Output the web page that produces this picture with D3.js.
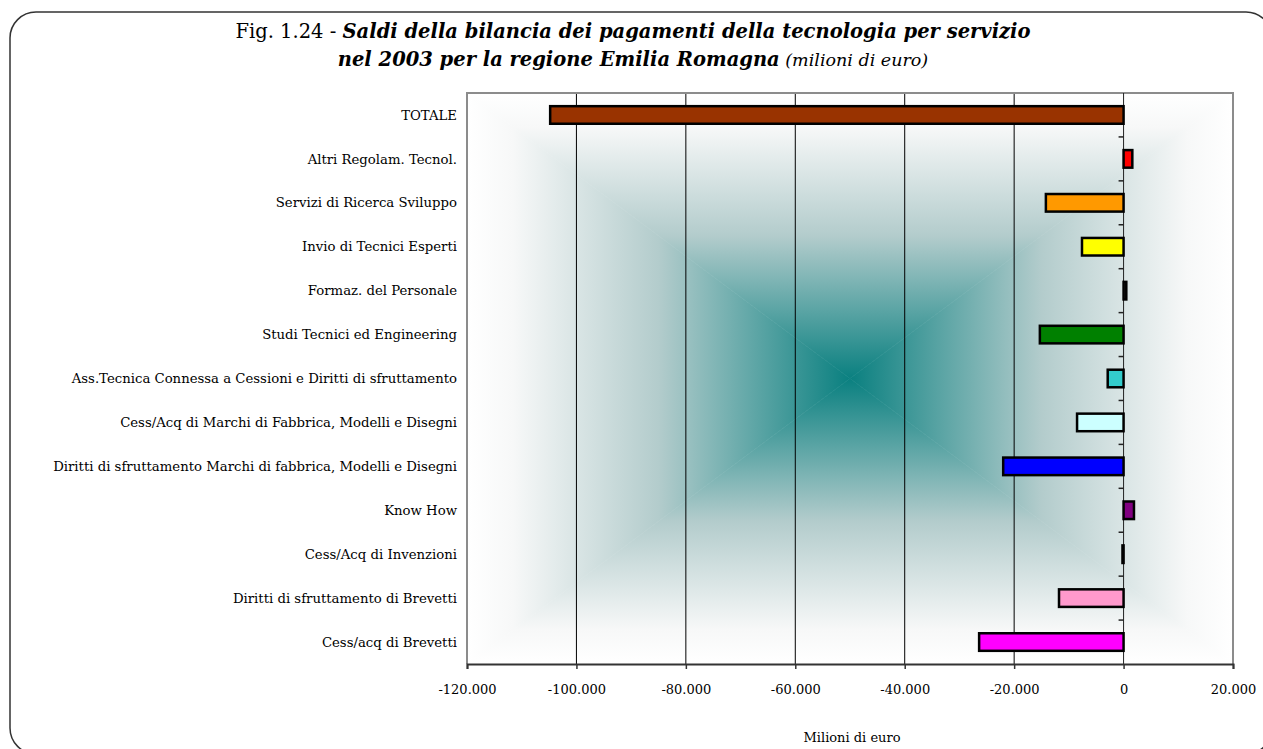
<!DOCTYPE html>
<html>
<head>
<meta charset="utf-8">
<script src="https://cdn.jsdelivr.net/npm/d3@7"></script>
<style>
  body { margin: 0; background: #fff; }
  svg { display: block; font-family: "DejaVu Serif", "Liberation Serif", serif; }
</style>
</head>
<body>
<div class="chart"></div>
<script>
const categories = [
  "TOTALE",
  "Altri Regolam. Tecnol.",
  "Servizi di Ricerca Sviluppo",
  "Invio di Tecnici Esperti",
  "Formaz. del Personale",
  "Studi Tecnici ed Engineering",
  "Ass.Tecnica Connessa a Cessioni e Diritti di sfruttamento",
  "Cess/Acq di Marchi di Fabbrica, Modelli e Disegni",
  "Diritti di sfruttamento Marchi di fabbrica, Modelli e Disegni",
  "Know How",
  "Cess/Acq di Invenzioni",
  "Diritti di sfruttamento di Brevetti",
  "Cess/acq di Brevetti"
];
const values = [-104800, 1600, -14200, -7600, 500, -15300, -2900, -8500, -22000, 1900, -200, -11800, -26400];
const barColors = [
  "#993300", "#ff0000", "#ff9900", "#ffff00", "#333333", "#008000", "#33cccc",
  "#ccffff", "#0000ff", "#800080", "#000080", "#ff99cc", "#ff00ff"
];
const xTicks = [-120000, -100000, -80000, -60000, -40000, -20000, 0, 20000];

const width = 1263;
const height = 749;
const plot = { left: 467, right: 1233, top: 93, bottom: 664 };

const svg = d3
  .select(".chart")
  .append("svg")
  .attr("width", width)
  .attr("height", height);

// outer frame with rounded corners
svg
  .append("rect")
  .attr("x", 10)
  .attr("y", 12)
  .attr("width", 1262)
  .attr("height", 742)
  .attr("rx", 26)
  .attr("fill", "none")
  .attr("stroke", "#333")
  .attr("stroke-width", 1.5);

// title
const title = svg.append("text").attr("text-anchor", "middle").style("font-size", "19.5px");
title
  .append("tspan")
  .attr("x", 633)
  .attr("y", 38)
  .text("Fig. 1.24 - ");
title
  .append("tspan")
  .style("font-weight", "bold")
  .style("font-style", "italic")
  .text("Saldi della bilancia dei pagamenti della tecnologia per servizio");
const title2 = svg.append("text").attr("text-anchor", "middle").style("font-size", "19.5px");
title2
  .append("tspan")
  .attr("x", 633)
  .attr("y", 66)
  .style("font-weight", "bold")
  .style("font-style", "italic")
  .text("nel 2003 per la regione Emilia Romagna");
title2
  .append("tspan")
  .style("font-style", "italic")
  .style("font-size", "17.5px")
  .text("  (milioni di euro)");

const x = d3
  .scaleLinear()
  .domain([-120000, 20000])
  .range([plot.left, plot.right]);

const y = d3
  .scaleBand()
  .domain(categories)
  .range([plot.top, plot.bottom])
  .paddingInner(0.6)
  .paddingOuter(0.3);

const yBound = d3
  .scaleBand()
  .domain(categories)
  .range([plot.top, plot.bottom]);

// background: rectangular gradient from the centre
const defs = svg.append("defs");
const cx = (plot.left + plot.right) / 2;
const cy = (plot.top + plot.bottom) / 2;
const sides = [
  { id: "gTop", x1: cx, y1: plot.top, x2: cx, y2: cy, pts: [[plot.left, plot.top], [plot.right, plot.top], [cx, cy]] },
  { id: "gBottom", x1: cx, y1: plot.bottom, x2: cx, y2: cy, pts: [[plot.left, plot.bottom], [plot.right, plot.bottom], [cx, cy]] },
  { id: "gLeft", x1: plot.left, y1: cy, x2: cx, y2: cy, pts: [[plot.left, plot.top], [plot.left, plot.bottom], [cx, cy]] },
  { id: "gRight", x1: plot.right, y1: cy, x2: cx, y2: cy, pts: [[plot.right, plot.top], [plot.right, plot.bottom], [cx, cy]] }
];
sides.forEach(s => {
  const g = defs
    .append("linearGradient")
    .attr("id", s.id)
    .attr("gradientUnits", "userSpaceOnUse")
    .attr("x1", s.x1)
    .attr("y1", s.y1)
    .attr("x2", s.x2)
    .attr("y2", s.y2);
  g.append("stop").attr("offset", "0").attr("stop-color", "#ffffff");
  g.append("stop").attr("offset", "0.12").attr("stop-color", "#f7f8f8");
  g.append("stop").attr("offset", "0.5").attr("stop-color", "#b3cccc");
  g.append("stop").attr("offset", "1").attr("stop-color", "#0a8080");
});
svg
  .append("g")
  .selectAll("polygon")
  .data(sides)
  .enter()
  .append("polygon")
  .attr("points", d => d.pts.map(p => p.join(",")).join(" "))
  .attr("fill", d => `url(#${d.id})`)
  .attr("stroke", d => `url(#${d.id})`)
  .attr("stroke-width", 0.6);

// vertical gridlines
svg
  .append("g")
  .selectAll("line")
  .data(xTicks.filter(t => t > -120000 && t < 0))
  .enter()
  .append("line")
  .attr("x1", d => x(d))
  .attr("x2", d => x(d))
  .attr("y1", plot.top)
  .attr("y2", plot.bottom)
  .attr("stroke", "#000")
  .attr("stroke-width", 1);

// plot border
svg
  .append("path")
  .attr("d", `M${plot.left},${plot.bottom} V${plot.top} H${plot.right} V${plot.bottom}`)
  .attr("fill", "none")
  .attr("stroke", "#8c8c8c")
  .attr("stroke-width", 2);

// category axis at zero
const yAxisG = svg.append("g");
yAxisG
  .append("line")
  .attr("x1", x(0))
  .attr("x2", x(0))
  .attr("y1", plot.top)
  .attr("y2", plot.bottom)
  .attr("stroke", "#222")
  .attr("stroke-width", 1);
yAxisG
  .selectAll(".ytick")
  .data(categories.slice(1))
  .enter()
  .append("line")
  .attr("class", "ytick")
  .attr("x1", x(0) - 5)
  .attr("x2", x(0))
  .attr("y1", d => yBound(d))
  .attr("y2", d => yBound(d))
  .attr("stroke", "#222")
  .attr("stroke-width", 1.5);

// bars
svg
  .append("g")
  .selectAll("rect")
  .data(values)
  .enter()
  .append("rect")
  .attr("x", d => x(Math.min(0, d)))
  .attr("y", (d, i) => y(categories[i]))
  .attr("width", d => Math.abs(x(d) - x(0)))
  .attr("height", y.bandwidth())
  .attr("fill", (d, i) => barColors[i])
  .attr("stroke", "#000")
  .attr("stroke-width", 2.5);

// category labels
svg
  .append("g")
  .selectAll("text")
  .data(categories)
  .enter()
  .append("text")
  .attr("x", plot.left - 10)
  .attr("y", d => yBound(d) + yBound.bandwidth() / 2)
  .attr("dy", "0.35em")
  .attr("text-anchor", "end")
  .style("font-size", "13.25px")
  .attr("fill", "#000")
  .text(d => d);

// value axis
const fmt = d3.formatLocale({ decimal: ",", thousands: ".", grouping: [3], currency: ["", "€"], minus: "-" }).format(",.0f");
const xAxis = d3.axisBottom(x).tickValues(xTicks).tickSize(5).tickPadding(16).tickFormat(fmt);
const xAxisG = svg
  .append("g")
  .attr("transform", `translate(0,${plot.bottom})`)
  .call(xAxis);
xAxisG.select(".domain").attr("stroke", "#333").attr("stroke-width", 2);
xAxisG.selectAll(".tick line").attr("stroke", "#333").attr("stroke-width", 1.5);
xAxisG
  .selectAll(".tick text")
  .style("font-family", "'DejaVu Serif', serif")
  .style("font-size", "13px")
  .attr("fill", "#000");

svg
  .append("text")
  .attr("x", 852)
  .attr("y", 742)
  .attr("text-anchor", "middle")
  .style("font-size", "13px")
  .text("Milioni di euro");
</script>
</body>
</html>
